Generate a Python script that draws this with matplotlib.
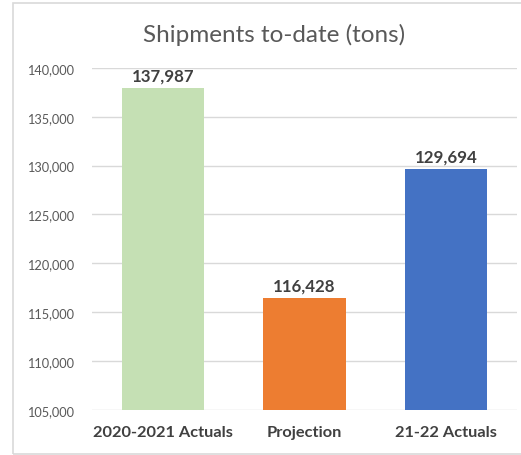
import matplotlib.pyplot as plt
from matplotlib.patches import Rectangle
from matplotlib.ticker import FuncFormatter

categories = ['2020-2021 Actuals', 'Projection', '21-22 Actuals']
tons = [137987, 116428, 129694]
bar_colors = ['#C5E0B4', '#ED7D31', '#4472C4']
y_ticks = [105000, 110000, 115000, 120000, 125000, 130000, 135000, 140000]

plt.rcParams['font.family'] = ['Lato', 'DejaVu Sans']

fig = plt.figure(figsize=(5.21, 4.56), dpi=100)
ax = fig.add_axes([0.1766, 0.0993, 0.8157, 0.7494])

# chart frame like the spreadsheet chart border
fig.patches.append(Rectangle((12.5 / 521, 1.5 / 456), 1.2, 451 / 456,
                             transform=fig.transFigure, fill=False,
                             edgecolor='#d9d9d9', linewidth=1.2))

x = range(len(categories))
bars = ax.bar(x, tons, width=0.58, color=bar_colors, zorder=3)

for rect, val in zip(bars, tons):
    ax.annotate(f'{val:,}', (rect.get_x() + rect.get_width() / 2, val),
                xytext=(0, 3), textcoords='offset points', ha='center', va='bottom',
                fontsize=12.2, fontweight='bold', color='#404040')

ax.set_xlim(-0.5, 2.5)
ax.set_ylim(105000, 140000)
ax.set_yticks(y_ticks)
ax.yaxis.set_major_formatter(FuncFormatter(lambda v, p: f'{int(v):,}'))
ax.set_xticks(list(x))
ax.set_xticklabels(categories, fontsize=11.8, fontweight='bold', color='#404040')
ax.tick_params(axis='x', length=0, pad=11)
ax.tick_params(axis='y', length=0, pad=13, labelsize=9.2, labelcolor='#595959')

ax.grid(axis='y', color='#d9d9d9', linewidth=1, zorder=0)
for s in ax.spines.values():
    s.set_visible(False)

fig.text(0.526, 0.923, 'Shipments to-date (tons)', ha='center', va='center',
         fontsize=17.5, color='#595959')

plt.savefig('out.png', dpi=100)
